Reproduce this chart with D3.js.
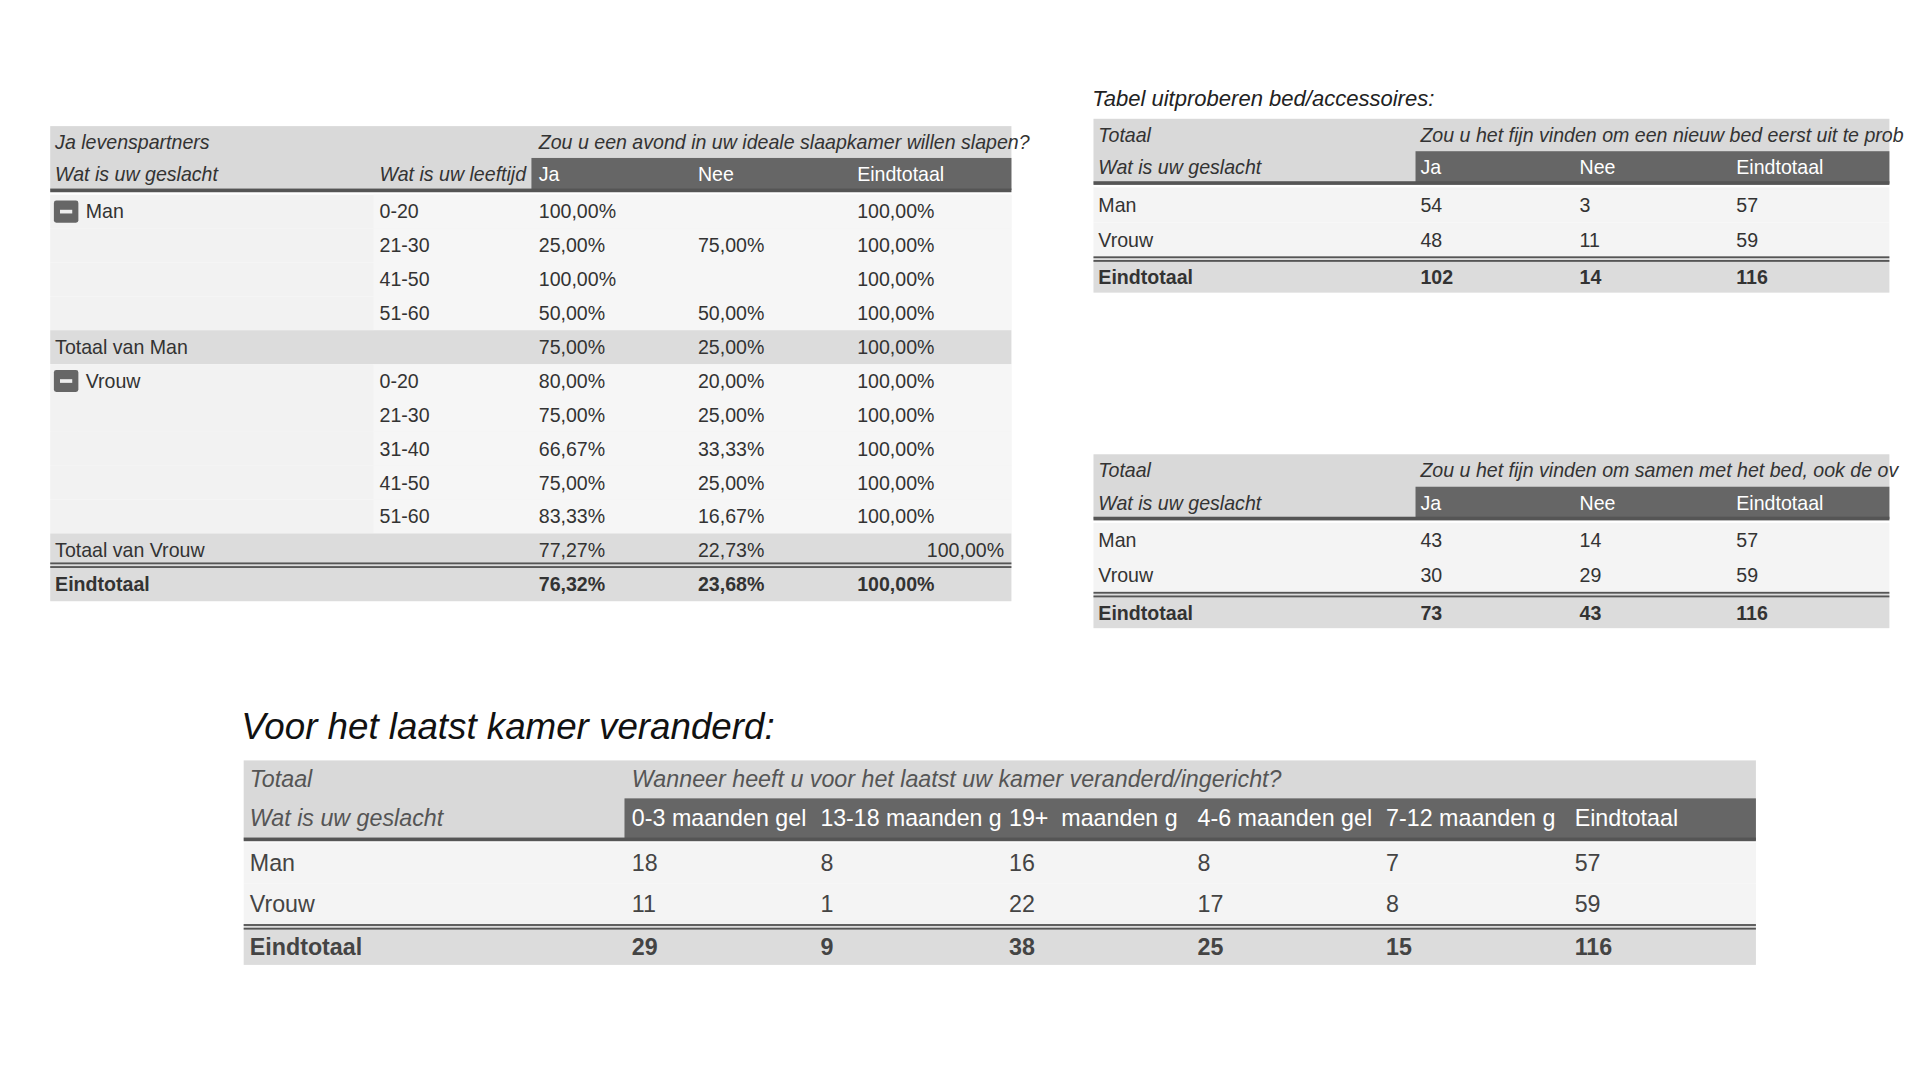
<!DOCTYPE html>
<html><head><meta charset="utf-8">
<script src="https://cdn.jsdelivr.net/npm/d3@7/dist/d3.min.js"></script>
<style>body{margin:0;background:#fff}svg{display:block}</style>
</head><body><svg id="c" width="1920" height="1080" viewBox="0 0 1568 882"></svg>
<script>
// ---- Data ----
const t1Title1 = "Ja levenspartners";
const t1Question = "Zou u een avond in uw ideale slaapkamer willen slapen?";
const t1Header = ["Wat is uw geslacht", "Wat is uw leeftijd", "Ja", "Nee", "Eindtotaal"];
const t1Rows = [
  {type:"g", g:"Man", age:"0-20", v:["100,00%","","100,00%"]},
  {type:"n", g:"", age:"21-30", v:["25,00%","75,00%","100,00%"]},
  {type:"n", g:"", age:"41-50", v:["100,00%","","100,00%"]},
  {type:"n", g:"", age:"51-60", v:["50,00%","50,00%","100,00%"]},
  {type:"t", g:"Totaal van Man", age:"", v:["75,00%","25,00%","100,00%"]},
  {type:"g", g:"Vrouw", age:"0-20", v:["80,00%","20,00%","100,00%"]},
  {type:"n", g:"", age:"21-30", v:["75,00%","25,00%","100,00%"]},
  {type:"n", g:"", age:"31-40", v:["66,67%","33,33%","100,00%"]},
  {type:"n", g:"", age:"41-50", v:["75,00%","25,00%","100,00%"]},
  {type:"n", g:"", age:"51-60", v:["83,33%","16,67%","100,00%"]},
  {type:"t", g:"Totaal van Vrouw", age:"", v:["77,27%","22,73%","100,00%"], rightLast:true},
  {type:"e", g:"Eindtotaal", age:"", v:["76,32%","23,68%","100,00%"]}
];
const t2Caption = "Tabel uitproberen bed/accessoires:";
const t2Question = "Zou u het fijn vinden om een nieuw bed eerst uit te prob";
const t3Question = "Zou u het fijn vinden om samen met het bed, ook de ov";
const t23Header = ["Ja", "Nee", "Eindtotaal"];
const t23Cats = ["Man", "Vrouw", "Eindtotaal"];
const t2Values = [[54,3,57],[48,11,59],[102,14,116]];
const t3Values = [[43,14,57],[30,29,59],[73,43,116]];
const t4Caption = "Voor het laatst kamer veranderd:";
const t4Question = "Wanneer heeft u voor het laatst uw kamer veranderd/ingericht?";
const t4Header = ["0-3 maanden gel","13-18 maanden g","19+  maanden g","4-6 maanden gel","7-12 maanden g","Eindtotaal"];
const t4Cats = ["Man", "Vrouw", "Eindtotaal"];
const t4Values = [[18,8,16,8,7,57],[11,1,22,17,8,59],[29,9,38,25,15,116]];

// ---- Drawing ----
const svg = d3.select("#c");
const FONT = "Liberation Sans, Arial, sans-serif";
function txt(g,x,y,s,o={}){
  const t = g.append("text").attr("x",x).attr("y",y).attr("dy","0.35em").text(s)
    .attr("font-family",FONT).attr("font-size",o.fs||16).attr("fill",o.fill||"#333")
    .attr("font-style",o.it?"italic":null).attr("font-weight",o.b?"bold":null)
    .attr("text-anchor",o.anchor||"start").attr("xml:space","preserve");
  if(o.maxW){const w=t.node().getComputedTextLength(); if(w>o.maxW) t.attr("textLength",o.maxW).attr("lengthAdjust","spacingAndGlyphs");}
  return t;
}

// Table 1
(function(){
  const g = svg.append("g");
  const x0=41,x1=826, dataX=434;
  const cx = {g:45, age:310, Ja:440, Nee:570, Eindtotaal:700};
  const hy = d3.scaleBand().domain([0,1]).range([103,155]);
  g.append("rect").attr("x",x0).attr("y",103).attr("width",x1-x0).attr("height",52).attr("fill","#d9d9d9");
  g.append("rect").attr("x",dataX).attr("y",hy(1)).attr("width",x1-dataX).attr("height",hy.bandwidth()).attr("fill","#666");
  txt(g,cx.g,hy(0)+hy.bandwidth()/2,t1Title1,{it:1});
  txt(g,440,hy(0)+hy.bandwidth()/2,t1Question,{it:1,maxW:418});
  const keys=["g","age","Ja","Nee","Eindtotaal"];
  t1Header.forEach((h,i)=>{
    txt(g,cx[keys[i]],hy(1)+hy.bandwidth()/2,h,{it:i<2,fill:i<2?"#333":"#fff",maxW:i==1?122:undefined});
  });
  const ry = d3.scaleBand().domain(d3.range(t1Rows.length)).range([159,491]);
  t1Rows.forEach((r,i)=>{
    const y=ry(i), h=ry.bandwidth(), cy=y+h/2;
    if(r.type=="n"||r.type=="g"){
      g.append("rect").attr("x",x0).attr("y",y).attr("width",x1-x0).attr("height",h).attr("fill","#f2f2f2");
      g.append("rect").attr("x",305).attr("y",y).attr("width",x1-305).attr("height",h).attr("fill","#f6f6f6");
    } else {
      g.append("rect").attr("x",x0).attr("y",y).attr("width",x1-x0).attr("height",h).attr("fill","#dcdcdc");
    }
    if(r.type=="g"){
      g.append("rect").attr("x",44).attr("y",cy-9).attr("width",20).attr("height",18).attr("rx",2).attr("fill","#666");
      g.append("rect").attr("x",49).attr("y",cy-1.5).attr("width",10).attr("height",3).attr("fill","#eee");
      txt(g,70,cy,r.g);
    } else if(r.g) txt(g,cx.g,cy,r.g,{b:r.type=="e"});
    if(r.age) txt(g,cx.age,cy,r.age);
    r.v.forEach((v,j)=>{
      if(j==2&&r.rightLast) txt(g,x1-6,cy,v,{anchor:"end"});
      else txt(g,cx[keys[j+2]],cy,v,{b:r.type=="e"});
    });
  });
  g.append("rect").attr("x",x0).attr("y",154).attr("width",x1-x0).attr("height",3).attr("fill","#555");
  const ey=ry(t1Rows.length-1);
  g.append("rect").attr("x",x0).attr("y",ey-4).attr("width",x1-x0).attr("height",1.5).attr("fill","#555");
  g.append("rect").attr("x",x0).attr("y",ey-1).attr("width",x1-x0).attr("height",1.5).attr("fill","#555");
})();

// Tables 2/3
function smallTable(top, question, values){
  const g=svg.append("g");
  const x0=893,x1=1543,dataX=1156;
  const cx=[897,1160,1290,1418];
  const hy=d3.scaleBand().domain([0,1]).range([top,top+53]);
  g.append("rect").attr("x",x0).attr("y",top).attr("width",x1-x0).attr("height",53).attr("fill","#d9d9d9");
  g.append("rect").attr("x",dataX).attr("y",hy(1)).attr("width",x1-dataX).attr("height",hy.bandwidth()).attr("fill","#666");
  txt(g,cx[0],hy(0)+hy.bandwidth()/2,"Totaal",{it:1});
  txt(g,cx[1],hy(0)+hy.bandwidth()/2,question,{it:1,maxW:400});
  txt(g,cx[0],hy(1)+hy.bandwidth()/2,"Wat is uw geslacht",{it:1});
  t23Header.forEach((h,i)=>txt(g,cx[i+1],hy(1)+hy.bandwidth()/2,h,{fill:"#fff"}));
  const ry=d3.scaleBand().domain(d3.range(3)).range([top+56,top+142]);
  t23Cats.forEach((c,i)=>{
    const y=ry(i),h=ry.bandwidth(),cy=y+h/2, e=i==2;
    g.append("rect").attr("x",x0).attr("y",y).attr("width",x1-x0).attr("height",h).attr("fill",e?"#dcdcdc":"#f4f4f4");
    txt(g,cx[0],cy+(e?2:0),c,{b:e});
    values[i].forEach((v,j)=>txt(g,cx[j+1],cy+(e?2:0),v,{b:e}));
  });
  g.append("rect").attr("x",x0).attr("y",top+51).attr("width",x1-x0).attr("height",3).attr("fill","#555");
  const ey=ry(2);
  g.append("rect").attr("x",x0).attr("y",ey-1).attr("width",x1-x0).attr("height",1.5).attr("fill","#555");
  g.append("rect").attr("x",x0).attr("y",ey+2).attr("width",x1-x0).attr("height",1.5).attr("fill","#555");
}
txt(svg,892,80,t2Caption,{it:1,fs:18,fill:"#222"});
smallTable(97,t2Question,t2Values);
smallTable(371,t3Question,t3Values);

// Table 4
(function(){
  const g=svg.append("g");
  txt(g,197,593,t4Caption,{it:1,fs:30,fill:"#111"});
  const x0=199,x1=1434,dataX=510;
  const cx=d3.scaleLinear().domain([0,5]).range([516,1286]);
  const colW=cx(1)-cx(0);
  g.append("rect").attr("x",x0).attr("y",621).attr("width",x1-x0).attr("height",65).attr("fill","#d9d9d9");
  g.append("rect").attr("x",dataX).attr("y",652).attr("width",x1-dataX).attr("height",34).attr("fill","#666");
  txt(g,204,636,"Totaal",{it:1,fs:19,fill:"#555"});
  txt(g,516,636,t4Question,{it:1,fs:19,fill:"#555",maxW:556});
  txt(g,204,668,"Wat is uw geslacht",{it:1,fs:19,fill:"#555",maxW:166});
  t4Header.forEach((h,i)=>txt(g,cx(i),668,h,{fs:19,fill:"#fff",maxW:colW-6}));
  const ry=d3.scaleBand().domain(d3.range(3)).range([688,788]);
  t4Cats.forEach((c,i)=>{
    const y=ry(i),h=ry.bandwidth(),cy=y+h/2, e=i==2;
    g.append("rect").attr("x",x0).attr("y",y).attr("width",x1-x0).attr("height",h).attr("fill",e?"#dcdcdc":"#f4f4f4");
    txt(g,204,cy+(e?2:0),c,{b:e,fs:19,fill:"#444"});
    t4Values[i].forEach((v,j)=>txt(g,cx(j),cy+(e?2:0),v,{b:e,fs:19,fill:"#444"}));
  });
  g.append("rect").attr("x",x0).attr("y",684).attr("width",x1-x0).attr("height",3).attr("fill","#555");
  const ey=ry(2);
  g.append("rect").attr("x",x0).attr("y",ey).attr("width",x1-x0).attr("height",1.5).attr("fill","#555");
  g.append("rect").attr("x",x0).attr("y",ey+3).attr("width",x1-x0).attr("height",1.5).attr("fill","#555");
})();
</script></body></html>
